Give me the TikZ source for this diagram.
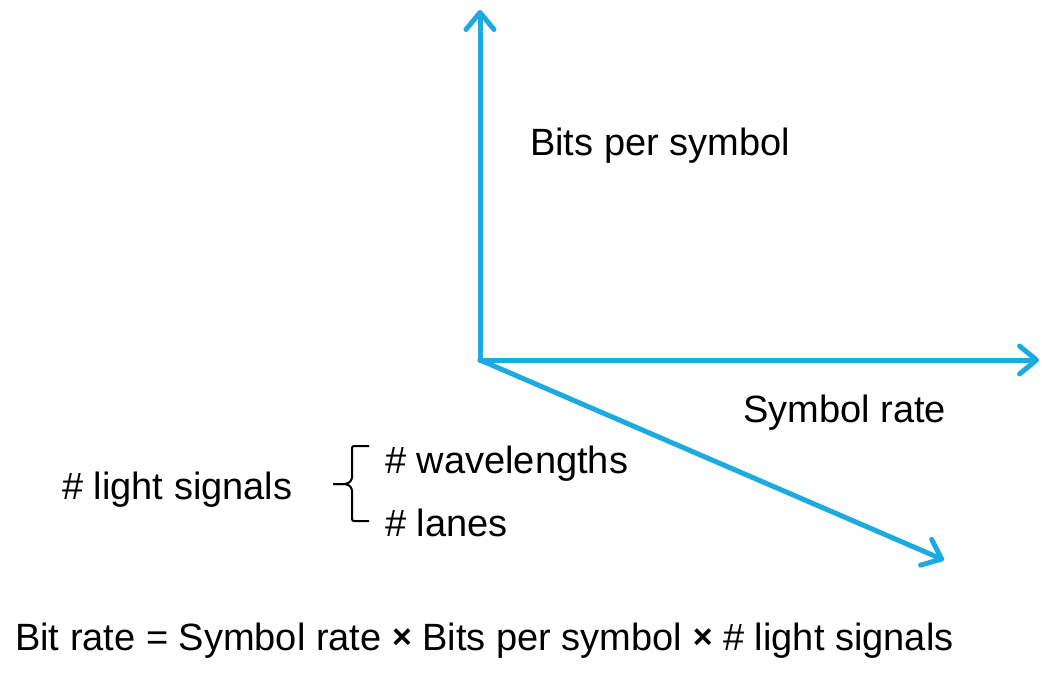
\documentclass[tikz,border=0pt]{standalone}
\usepackage{fontspec}
\setmainfont{Liberation Sans}
\usetikzlibrary{arrows.meta}
\definecolor{axisblue}{RGB}{28,170,224}
\begin{document}
\begin{tikzpicture}[x=1pt,y=-1pt,
  axis/.style={draw=axisblue,line width=5pt,line cap=round,
    -{Straight Barb[length=17pt,width=28pt,line width=5pt,round]}},
  lbl/.style={anchor=west,inner sep=0pt,font=\fontsize{38}{44}\selectfont},
  brace/.style={draw=black,line width=2pt,rounded corners=2pt}]
\useasboundingbox (0,0) rectangle (1042,673);
\coordinate (o) at (480,360);
\coordinate (up) at (480,10);
\coordinate (rt) at (1039,360);
\coordinate (dg) at (944,560);
\draw[axis] (o) -- (up);
\draw[axis] (o) -- (rt);
\draw[axis] (o) -- (dg);
\node[lbl] (bps) at (530,146) {Bits per symbol};
\node[lbl] (sr) at (743,413) {Symbol rate};
\node[lbl] (ls) at (62,490) {\# light signals};
\node[lbl] (wl) at (385,464) {\# wavelengths};
\node[lbl] (ln) at (385,523) {\# lanes};
\coordinate (bt) at (369,446);
\coordinate (bb) at (369,521);
\coordinate (tip) at (333,484);
\draw[brace] (bt) -- (352,446) -- (352,480) -- (347,484) -- (tip);
\draw[brace] (tip) -- (347,484) -- (352,488) -- (352,521) -- (bb);
\node[lbl] (eq) at (15,641) {Bit rate = Symbol rate {\fontsize{34}{38}\selectfont\raisebox{2pt}{\textbf{×}}} Bits per symbol {\fontsize{34}{38}\selectfont\raisebox{2pt}{\textbf{×}}} \# light signals};
\end{tikzpicture}
\end{document}
